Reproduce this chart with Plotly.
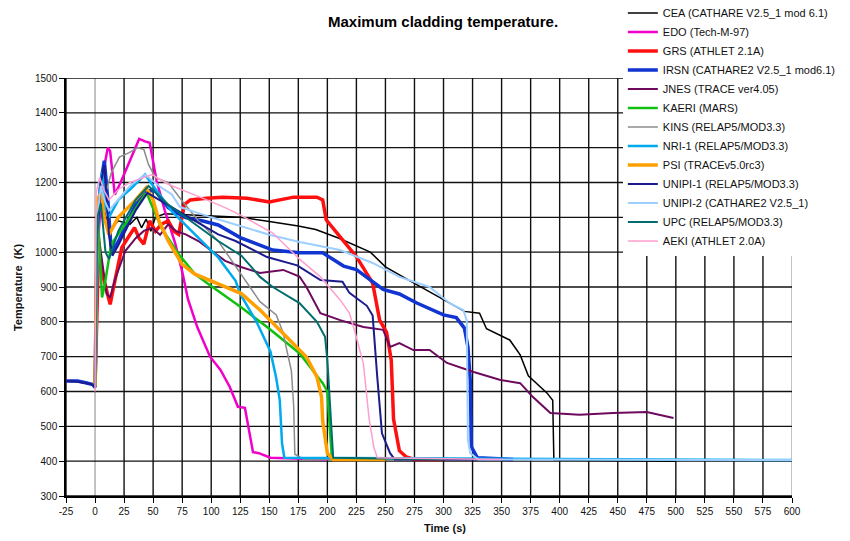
import plotly.graph_objects as go

# ---------------- data ----------------
names = ["CEA (CATHARE V2.5_1 mod 6.1)", "EDO (Tech-M-97)", "GRS (ATHLET 2.1A)",
         "IRSN (CATHARE2 V2.5_1 mod6.1)", "JNES (TRACE ver4.05)", "KAERI (MARS)",
         "KINS (RELAP5/MOD3.3)", "NRI-1 (RELAP5/MOD3.3)", "PSI (TRACEv5.0rc3)",
         "UNIPI-1 (RELAP5/MOD3.3)", "UNIPI-2 (CATHARE2 V2.5_1)", "UPC (RELAP5/MOD3.3)",
         "AEKI (ATHLET 2.0A)"]

cea_t = [0, 2, 5, 8, 12, 20, 30, 36, 40, 44, 48, 52, 60, 75, 100, 125, 150, 175, 190, 210, 237, 250, 270, 300, 318, 331, 337, 357, 366, 373, 389, 394, 395, 500]
cea_T = [615, 1000, 1180, 1120, 1060, 1090, 1080, 1100, 1070, 1095, 1060, 1100, 1110, 1108, 1105, 1100, 1088, 1075, 1065, 1040, 1000, 958, 920, 863, 830, 825, 780, 748, 705, 645, 596, 575, 403, 400]

edo_t = [0, 3, 7, 11, 13, 17, 22, 30, 38, 43, 47, 50, 53, 60, 69, 75, 80, 88, 99, 108, 116, 123, 129, 136, 141, 151, 200]
edo_T = [615, 1050, 1230, 1300, 1290, 1165, 1200, 1260, 1325, 1318, 1314, 1260, 1205, 1120, 1025, 945, 865, 785, 700, 662, 613, 556, 553, 426, 423, 410, 405]

grs_t = [0, 3, 7, 13, 16, 23, 30, 34, 38, 42, 47, 52, 57, 63, 68, 72, 77, 82, 96, 110, 131, 150, 171, 191, 196, 199, 211, 225, 239, 245, 251, 255, 257, 262, 268, 275, 300]
grs_T = [615, 1000, 930, 850, 900, 1013, 1050, 1070, 1040, 1023, 1090, 1060, 1080, 1090, 1060, 1051, 1137, 1150, 1155, 1158, 1155, 1144, 1158, 1158, 1150, 1093, 1044, 987, 911, 805, 770, 690, 520, 430, 412, 405, 405]

irsn_t = [-25, -15, -8, -2, 0, 2, 5, 8, 11, 14, 17, 20, 27, 35, 43, 52, 63, 78, 92, 106, 125, 153, 176, 196, 214, 225, 248, 262, 277, 300, 311, 318, 321, 323, 324, 329, 360]
irsn_T = [630, 630, 625, 620, 612, 1080, 1200, 1262, 1150, 1000, 1013, 1030, 1080, 1137, 1176, 1176, 1128, 1099, 1090, 1078, 1042, 1006, 998, 998, 960, 950, 893, 880, 854, 820, 812, 782, 728, 633, 441, 410, 405]

jnes_t = [0, 2, 5, 10, 13, 17, 26, 35, 42, 49, 56, 63, 70, 78, 89, 101, 112, 125, 142, 162, 176, 182, 194, 211, 231, 248, 254, 262, 274, 288, 303, 326, 349, 366, 377, 392, 417, 446, 475, 498]
jnes_T = [615, 1080, 1000, 880, 870, 920, 1003, 1040, 1061, 1070, 1050, 1080, 1060, 1051, 1032, 1003, 975, 958, 940, 949, 930, 900, 825, 805, 785, 777, 728, 739, 719, 719, 682, 656, 633, 624, 584, 538, 533, 538, 541, 524]

kaeri_t = [0, 2, 4, 6, 8, 14, 28, 43, 45, 57, 72, 86, 99, 106, 126, 150, 176, 196, 200, 202, 204, 250]
kaeri_T = [615, 1150, 1000, 870, 900, 1023, 1090, 1166, 1165, 1070, 994, 937, 905, 889, 841, 780, 710, 624, 600, 500, 405, 405]

kins_t = [0, 3, 7, 10, 14, 21, 29, 37, 42, 46, 52, 63, 75, 89, 106, 124, 142, 156, 162, 165, 169, 171, 172, 180, 250]
kins_T = [615, 1150, 1200, 1180, 1228, 1273, 1285, 1300, 1295, 1252, 1214, 1200, 1147, 1090, 1032, 946, 858, 820, 768, 720, 660, 560, 420, 405, 405]

nri_t = [0, 3, 6, 9, 12, 20, 30, 43, 49, 66, 86, 106, 121, 125, 139, 151, 156, 159, 161, 163, 600]
nri_T = [615, 1150, 1230, 1128, 1100, 1150, 1180, 1223, 1195, 1118, 1051, 985, 918, 880, 800, 715, 638, 576, 450, 410, 403]

psi_t = [0, 2, 5, 8, 12, 20, 35, 44, 50, 55, 63, 75, 86, 106, 126, 142, 162, 182, 191, 195, 196, 200, 205, 250]
psi_T = [615, 1150, 1170, 1100, 1050, 1100, 1150, 1185, 1150, 1090, 1032, 965, 937, 908, 881, 834, 768, 699, 642, 584, 515, 423, 405, 405]

unipi1_t = [-25, -15, -8, -2, 0, 2, 5, 8, 12, 15, 20, 35, 45, 60, 75, 86, 106, 121, 148, 174, 194, 213, 219, 234, 239, 241, 243, 245, 247, 254, 258, 360]
unipi1_T = [630, 628, 624, 620, 612, 1050, 1200, 1250, 1050, 990, 1020, 1120, 1170, 1140, 1110, 1090, 1051, 1032, 986, 962, 920, 915, 883, 846, 818, 720, 640, 560, 480, 423, 405, 405]

unipi2_t = [0, 2, 5, 8, 12, 20, 30, 43, 55, 66, 73, 100, 125, 150, 176, 211, 239, 262, 288, 305, 317, 320, 321, 323, 330, 600]
unipi2_T = [615, 1100, 1190, 1150, 1120, 1150, 1190, 1223, 1190, 1166, 1130, 1100, 1075, 1050, 1029, 1006, 969, 929, 900, 854, 834, 805, 460, 423, 405, 403]

upc_t = [0, 2, 5, 9, 12, 20, 35, 46, 63, 86, 106, 126, 142, 153, 176, 191, 198, 200, 201, 203, 205, 300]
upc_T = [615, 1100, 1140, 1000, 980, 1060, 1150, 1190, 1137, 1080, 1032, 990, 929, 900, 854, 800, 757, 690, 630, 500, 410, 405]

aeki_t = [0, 1, 4, 8, 12, 20, 30, 42, 49, 63, 78, 92, 112, 126, 153, 176, 194, 211, 219, 224, 231, 234, 236, 240, 243, 350]
aeki_T = [600, 1170, 1214, 1176, 1150, 1180, 1200, 1214, 1223, 1195, 1176, 1156, 1128, 1105, 1055, 980, 929, 863, 825, 768, 680, 580, 520, 440, 410, 405]

series_t = [cea_t, edo_t, grs_t, irsn_t, jnes_t, kaeri_t, kins_t, nri_t, psi_t, unipi1_t, unipi2_t, upc_t, aeki_t]
series_T = [cea_T, edo_T, grs_T, irsn_T, jnes_T, kaeri_T, kins_T, nri_T, psi_T, unipi1_T, unipi2_T, upc_T, aeki_T]

x_ticks = list(range(-25, 601, 25))
y_ticks = list(range(300, 1501, 100))

# ---------------- styles ----------------
colors = ["#000000", "#f000c8", "#ff1010", "#1035d0", "#6e0a5e", "#10c010", "#8c8c8c",
          "#00aaee", "#ffa000", "#1c1c8c", "#9ccfff", "#006e6e", "#ff9fcf"]
widths = [1.5, 2.5, 3.5, 3.5, 2, 2.5, 1.5, 2.5, 3.5, 2, 2, 2, 1.5]

fig = go.Figure()
for n, t, T, c, w in zip(names, series_t, series_T, colors, widths):
    fig.add_trace(go.Scatter(x=t, y=T, mode="lines", name=n,
                             line=dict(color=c, width=w)))

# grid lines drawn as layout shapes under the data
grid = []
for v in x_ticks:
    col = "#aaaaaa" if v in (0, 600) else "#111111"
    grid.append(dict(type="line", xref="x", yref="y", x0=v, x1=v, y0=300, y1=1500,
                     line=dict(color=col, width=1.4), layer="below"))
for v in y_ticks:
    grid.append(dict(type="line", xref="x", yref="y", x0=-25, x1=600, y0=v, y1=v,
                     line=dict(color="#111111", width=1.4), layer="below"))

font = "Liberation Sans, Arial, sans-serif"
fig.update_layout(
    width=850, height=541,
    margin=dict(l=58, r=66, t=70, b=53, autoexpand=False),
    paper_bgcolor="white", plot_bgcolor="white",
    font=dict(family=font, size=10, color="#111"),
    showlegend=True,
    legend=dict(x=0.767, y=1.19, xanchor="left", yanchor="top",
                bgcolor="white", borderwidth=0,
                font=dict(family=font, size=11, color="#111"),
                itemwidth=30),
    xaxis=dict(range=[-25, 600], tickvals=x_ticks, ticktext=[str(v) for v in x_ticks],
               showgrid=False, zeroline=False,
               showline=True, linecolor="#000", linewidth=1.5,
               ticks="outside", ticklen=5, tickcolor="#000",
               tickfont=dict(size=10)),
    yaxis=dict(range=[300, 1500], tickvals=y_ticks,
               showgrid=False, zeroline=False,
               showline=True, linecolor="#000", linewidth=1.5,
               ticks="outside", ticklen=5, tickcolor="#000",
               tickfont=dict(size=10)),
    shapes=grid,
    annotations=[
        dict(text="<b>Maximum cladding temperature.</b>", xref="paper", yref="paper",
             x=0.519, y=1.134, xanchor="center", yanchor="middle", showarrow=False,
             font=dict(size=15, family=font, color="#000")),
        dict(text="<b>Temperature  (K)</b>", xref="paper", yref="paper",
             x=-0.066, y=0.5, xanchor="center", yanchor="middle", textangle=-90,
             showarrow=False, font=dict(size=11, family=font, color="#111")),
        dict(text="<b>Time (s)</b>", xref="paper", yref="paper",
             x=0.522, y=-0.077, xanchor="center", yanchor="middle",
             showarrow=False, font=dict(size=11, family=font, color="#111")),
    ],
)

fig.write_html("out.html")
